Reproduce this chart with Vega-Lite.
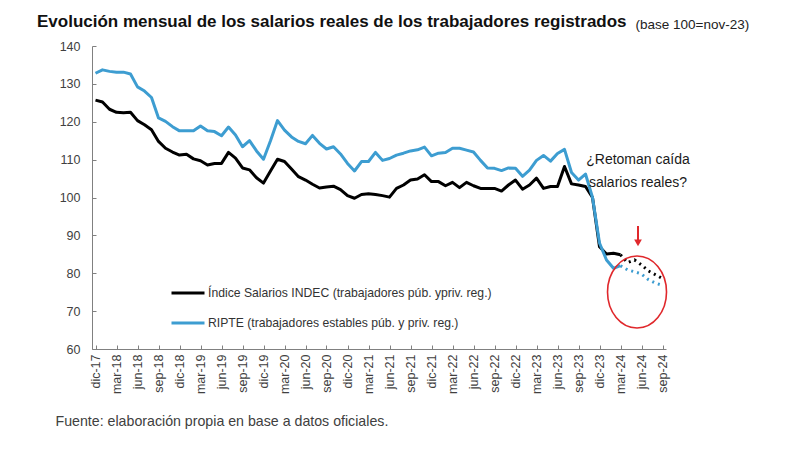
{
  "$schema": "https://vega.github.io/schema/vega-lite/v6.json",
  "width": 574,
  "height": 303,
  "autosize": {"type": "none"},
  "padding": {"left": 92, "top": 46, "right": 134, "bottom": 101},
  "background": "white",
  "config": {
    "view": {"stroke": null},
    "font": "Liberation Sans"
  },
  "title": {
    "text": "Evolución mensual de los salarios reales de los trabajadores registrados",
    "anchor": "start",
    "frame": "group",
    "dx": -55,
    "dy": 24,
    "offset": 10,
    "font": "Liberation Sans",
    "fontSize": 17,
    "fontWeight": "bold",
    "color": "#111111"
  },
  "datasets": {
    "obs": [
      {"n": 0, "mes": "dic-17", "indec": 125.7, "ripte": 132.8},
      {"n": 1, "mes": "ene-18", "indec": 125.2, "ripte": 133.7},
      {"n": 2, "mes": "feb-18", "indec": 123.3, "ripte": 133.3},
      {"n": 3, "mes": "mar-18", "indec": 122.5, "ripte": 133.1},
      {"n": 4, "mes": "abr-18", "indec": 122.4, "ripte": 133.1},
      {"n": 5, "mes": "may-18", "indec": 122.5, "ripte": 132.6},
      {"n": 6, "mes": "jun-18", "indec": 120.3, "ripte": 129.2},
      {"n": 7, "mes": "jul-18", "indec": 119.2, "ripte": 128.1},
      {"n": 8, "mes": "ago-18", "indec": 117.9, "ripte": 126.4},
      {"n": 9, "mes": "sep-18", "indec": 114.8, "ripte": 121.0},
      {"n": 10, "mes": "oct-18", "indec": 113.0, "ripte": 120.1},
      {"n": 11, "mes": "nov-18", "indec": 112.0, "ripte": 118.7},
      {"n": 12, "mes": "dic-18", "indec": 111.2, "ripte": 117.6},
      {"n": 13, "mes": "ene-19", "indec": 111.4, "ripte": 117.6},
      {"n": 14, "mes": "feb-19", "indec": 110.2, "ripte": 117.6},
      {"n": 15, "mes": "mar-19", "indec": 109.7, "ripte": 118.9},
      {"n": 16, "mes": "abr-19", "indec": 108.6, "ripte": 117.6},
      {"n": 17, "mes": "may-19", "indec": 109.0, "ripte": 117.4},
      {"n": 18, "mes": "jun-19", "indec": 109.0, "ripte": 116.3},
      {"n": 19, "mes": "jul-19", "indec": 111.9, "ripte": 118.6},
      {"n": 20, "mes": "ago-19", "indec": 110.4, "ripte": 116.5},
      {"n": 21, "mes": "sep-19", "indec": 107.8, "ripte": 113.4},
      {"n": 22, "mes": "oct-19", "indec": 107.3, "ripte": 115.0},
      {"n": 23, "mes": "nov-19", "indec": 105.2, "ripte": 112.3},
      {"n": 24, "mes": "dic-19", "indec": 103.8, "ripte": 110.1},
      {"n": 25, "mes": "ene-20", "indec": 107.0, "ripte": 115.0},
      {"n": 26, "mes": "feb-20", "indec": 110.1, "ripte": 120.3},
      {"n": 27, "mes": "mar-20", "indec": 109.5, "ripte": 117.8},
      {"n": 28, "mes": "abr-20", "indec": 107.5, "ripte": 116.0},
      {"n": 29, "mes": "may-20", "indec": 105.5, "ripte": 114.8},
      {"n": 30, "mes": "jun-20", "indec": 104.6, "ripte": 114.2},
      {"n": 31, "mes": "jul-20", "indec": 103.5, "ripte": 116.4},
      {"n": 32, "mes": "ago-20", "indec": 102.5, "ripte": 114.3},
      {"n": 33, "mes": "sep-20", "indec": 102.8, "ripte": 112.8},
      {"n": 34, "mes": "oct-20", "indec": 103.0, "ripte": 113.4},
      {"n": 35, "mes": "nov-20", "indec": 102.1, "ripte": 111.5},
      {"n": 36, "mes": "dic-20", "indec": 100.5, "ripte": 109.0},
      {"n": 37, "mes": "ene-21", "indec": 99.8, "ripte": 107.0},
      {"n": 38, "mes": "feb-21", "indec": 100.8, "ripte": 109.5},
      {"n": 39, "mes": "mar-21", "indec": 101.0, "ripte": 109.5},
      {"n": 40, "mes": "abr-21", "indec": 100.8, "ripte": 111.9},
      {"n": 41, "mes": "may-21", "indec": 100.5, "ripte": 109.8},
      {"n": 42, "mes": "jun-21", "indec": 100.1, "ripte": 110.3},
      {"n": 43, "mes": "jul-21", "indec": 102.4, "ripte": 111.2},
      {"n": 44, "mes": "ago-21", "indec": 103.3, "ripte": 111.7},
      {"n": 45, "mes": "sep-21", "indec": 104.6, "ripte": 112.3},
      {"n": 46, "mes": "oct-21", "indec": 104.9, "ripte": 112.6},
      {"n": 47, "mes": "nov-21", "indec": 106.0, "ripte": 113.3},
      {"n": 48, "mes": "dic-21", "indec": 104.2, "ripte": 111.0},
      {"n": 49, "mes": "ene-22", "indec": 104.2, "ripte": 111.7},
      {"n": 50, "mes": "feb-22", "indec": 103.1, "ripte": 111.9},
      {"n": 51, "mes": "mar-22", "indec": 104.0, "ripte": 113.0},
      {"n": 52, "mes": "abr-22", "indec": 102.6, "ripte": 113.0},
      {"n": 53, "mes": "may-22", "indec": 104.0, "ripte": 112.5},
      {"n": 54, "mes": "jun-22", "indec": 103.1, "ripte": 112.0},
      {"n": 55, "mes": "jul-22", "indec": 102.4, "ripte": 109.8},
      {"n": 56, "mes": "ago-22", "indec": 102.4, "ripte": 107.8},
      {"n": 57, "mes": "sep-22", "indec": 102.4, "ripte": 107.7},
      {"n": 58, "mes": "oct-22", "indec": 101.7, "ripte": 107.1},
      {"n": 59, "mes": "nov-22", "indec": 103.3, "ripte": 107.8},
      {"n": 60, "mes": "dic-22", "indec": 104.6, "ripte": 107.7},
      {"n": 61, "mes": "ene-23", "indec": 102.2, "ripte": 105.6},
      {"n": 62, "mes": "feb-23", "indec": 103.3, "ripte": 107.2},
      {"n": 63, "mes": "mar-23", "indec": 105.1, "ripte": 109.8},
      {"n": 64, "mes": "abr-23", "indec": 102.4, "ripte": 111.1},
      {"n": 65, "mes": "may-23", "indec": 102.9, "ripte": 109.6},
      {"n": 66, "mes": "jun-23", "indec": 102.9, "ripte": 111.6},
      {"n": 67, "mes": "jul-23", "indec": 108.2, "ripte": 112.7},
      {"n": 68, "mes": "ago-23", "indec": 103.6, "ripte": 106.6},
      {"n": 69, "mes": "sep-23", "indec": 103.3, "ripte": 104.6},
      {"n": 70, "mes": "oct-23", "indec": 102.9, "ripte": 106.2},
      {"n": 71, "mes": "nov-23", "indec": 100.0, "ripte": 100.0},
      {"n": 72, "mes": "dic-23", "indec": 87.0, "ripte": 88.0},
      {"n": 73, "mes": "ene-24", "indec": 85.1, "ripte": 83.5},
      {"n": 74, "mes": "feb-24", "indec": 85.3, "ripte": 81.3},
      {"n": 75, "mes": "mar-24", "indec": 84.9, "ripte": 82.0}
    ],
    "proy": [
      {"n": 75, "mes": "mar-24", "indec": 84.9, "ripte": 82.0},
      {"n": 76, "mes": "abr-24", "indec": 82.8, "ripte": 80.9},
      {"n": 77, "mes": "may-24", "indec": 83.5, "ripte": 80.4},
      {"n": 78, "mes": "jun-24", "indec": 82.2, "ripte": 79.8},
      {"n": 79, "mes": "jul-24", "indec": 80.6, "ripte": 78.3},
      {"n": 80, "mes": "ago-24", "indec": 79.6, "ripte": 77.4},
      {"n": 81, "mes": "sep-24", "indec": 78.6, "ripte": 76.8}
    ],
    "nota": [
      {"n": 77.5, "valor": 109.9, "texto": "¿Retoman caída"},
      {"n": 77.5, "valor": 103.8, "texto": "salarios reales?"}
    ],
    "flecha": [
      {"n": 77.5, "valor": 92.5, "valor2": 88.6}
    ],
    "punta": [
      {"n": 77.5, "valor": 88.0}
    ],
    "elipse": [
      {"n": 77.36, "valor": 75.05}
    ]
  },
  "encoding": {
    "x": {
      "field": "n",
      "type": "quantitative",
      "scale": {"domain": [-0.5, 81.5], "nice": false, "zero": false},
      "axis": {
        "values": [0, 3, 6, 9, 12, 15, 18, 21, 24, 27, 30, 33, 36, 39, 42, 45, 48, 51, 54, 57, 60, 63, 66, 69, 72, 75, 78, 81],
        "labelExpr": "['dic','mar','jun','sep'][(datum.value / 3) % 4] + '-' + (18 + floor((datum.value - 1) / 12))",
        "labelAngle": 270,
        "labelAlign": "right",
        "labelBaseline": "middle",
        "labelFontSize": 12.5,
        "labelColor": "#404040",
        "labelPadding": 9,
        "labelOverlap": false,
        "labelFlush": false,
        "tickSize": -4,
        "tickColor": "#808080",
        "domainColor": "#808080",
        "grid": false,
        "title": "Fuente: elaboración propia en base a datos oficiales.",
        "titleX": -37,
        "titleY": 76,
        "titleAlign": "left",
        "titleAnchor": "start",
        "titleBaseline": "alphabetic",
        "titleFontWeight": "normal",
        "titleFontSize": 14.2,
        "titleColor": "#404040"
      }
    },
    "y": {
      "field": "valor",
      "type": "quantitative",
      "scale": {"domain": [60, 140], "nice": false, "zero": false},
      "axis": {
        "values": [60, 70, 80, 90, 100, 110, 120, 130, 140],
        "labelFontSize": 12.5,
        "labelColor": "#404040",
        "labelPadding": 16,
        "tickSize": -4,
        "tickColor": "#808080",
        "domainColor": "#808080",
        "grid": false,
        "title": "(base 100=nov-23)",
        "titleAngle": 0,
        "titleX": 543,
        "titleY": -18,
        "titleAlign": "left",
        "titleAnchor": "start",
        "titleBaseline": "alphabetic",
        "titleFontWeight": "normal",
        "titleFontSize": 13.5,
        "titleColor": "#222222"
      }
    }
  },
  "layer": [
    {
      "data": {"name": "obs"},
      "transform": [{"fold": ["indec", "ripte"], "as": ["serie", "valor"]}],
      "mark": {"type": "line", "strokeWidth": 3, "strokeJoin": "round"},
      "encoding": {
        "color": {
          "field": "serie",
          "type": "nominal",
          "scale": {"domain": ["indec", "ripte"], "range": ["#000000", "#3d9dd1"]},
          "legend": {
            "orient": "none",
            "legendX": 78,
            "legendY": 229,
            "title": null,
            "symbolType": "stroke",
            "symbolSize": 1089,
            "symbolStrokeWidth": 3,
            "labelFont": "Liberation Sans",
            "labelFontSize": 12.2,
            "labelColor": "#333333",
            "labelOffset": 2,
            "labelLimit": 0,
            "rowPadding": 5,
            "labelExpr": "datum.value == 'indec' ? 'Índice Salarios INDEC (trabajadores púb. ypriv. reg.)' : 'RIPTE (trabajadores estables púb. y priv. reg.)'"
          }
        }
      }
    },
    {
      "data": {"name": "proy"},
      "transform": [{"fold": ["indec", "ripte"], "as": ["serie", "valor"]}],
      "mark": {"type": "line", "strokeWidth": 3, "strokeDash": [2, 4], "strokeCap": "butt"},
      "encoding": {
        "color": {
          "field": "serie",
          "type": "nominal",
          "scale": {"domain": ["indec", "ripte"], "range": ["#000000", "#3d9dd1"]},
          "legend": null
        }
      }
    },
    {
      "data": {"name": "nota"},
      "mark": {"type": "text", "font": "Liberation Sans", "fontSize": 14, "color": "#1a1a1a", "align": "center", "baseline": "middle"},
      "encoding": {"text": {"field": "texto", "type": "nominal"}}
    },
    {
      "data": {"name": "flecha"},
      "mark": {"type": "rule", "color": "#e0282c", "strokeWidth": 2},
      "encoding": {"y2": {"field": "valor2"}}
    },
    {
      "data": {"name": "punta"},
      "mark": {"type": "point", "shape": "triangle-down", "filled": true, "color": "#e0282c", "size": 60, "opacity": 1},
      "encoding": {}
    },
    {
      "data": {"name": "elipse"},
      "mark": {
        "type": "point",
        "shape": "M0,-1.22C0.5523,-1.22,1,-0.674,1,0C1,0.674,0.5523,1.22,0,1.22C-0.5523,1.22,-1,0.674,-1,0C-1,-0.674,-0.5523,-1.22,0,-1.22Z",
        "filled": false,
        "stroke": "#e0282c",
        "strokeWidth": 1.6,
        "size": 3481,
        "opacity": 1
      },
      "encoding": {}
    }
  ]
}
